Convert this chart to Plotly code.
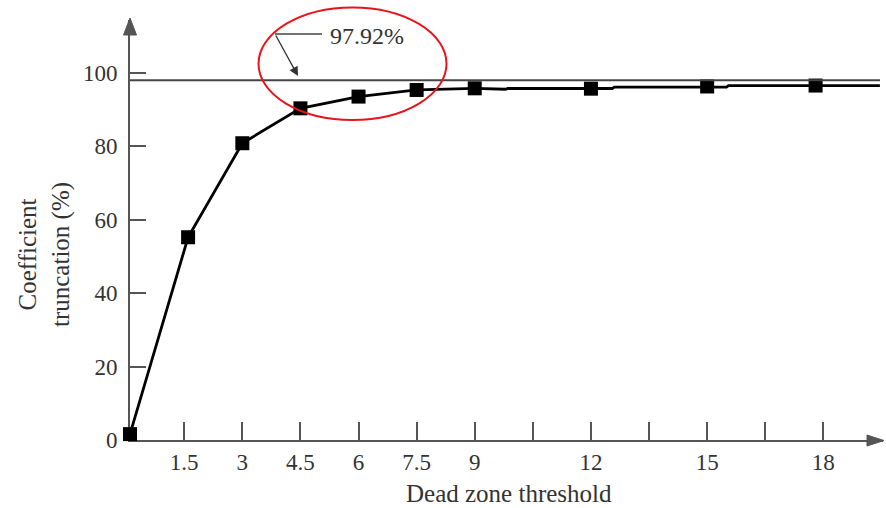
import plotly.graph_objects as go

# ---- data ----
thresholds = [0.1, 1.6, 3.0, 4.5, 6.0, 7.5, 9.0, 12.0, 15.0, 17.8]
truncation = [1.6, 55.2, 80.8, 90.3, 93.5, 95.3, 95.75, 95.65, 96.25, 96.5]

# polyline as drawn (with the small steps of the original curve)
curve_x = [0.1, 1.6, 3.0, 4.5, 6.0, 7.5, 9.0, 9.8, 9.85, 12.55, 12.6, 15.5, 15.55, 19.46]
curve_y = [1.6, 55.2, 80.8, 90.3, 93.5, 95.3, 95.75, 95.5, 95.7, 95.7, 96.1, 96.1, 96.5, 96.5]

reference_value = 97.92
reference_label = "97.92%"

x_tickvals = [1.5, 3, 4.5, 6, 7.5, 9, 10.5, 12, 13.5, 15, 16.5, 18]
x_ticktext = ["1.5", "3", "4.5", "6", "7.5", "9", "", "12", "", "15", "", "18"]
y_tickvals = [0, 20, 40, 60, 80, 100]

x_title = "Dead zone threshold"
y_title = "Coefficient<br>truncation (%)"

# ---- layout geometry (pixels) ----
W, H = 886, 508
L, R, T, B = 130, 883, 20, 440
X_RANGE = [0.1, 19.54]
Y_RANGE = [0, 114.35]

def px(x):
    return (x - L) / (R - L)

def py(y):
    return (B - y) / (B - T)

FONT = "Liberation Serif, Times New Roman, serif"
TXT = "#333333"
AX = "#555555"

fig = go.Figure()

fig.add_trace(go.Scatter(
    x=curve_x, y=curve_y, mode="lines",
    line=dict(color="black", width=2.8),
    hoverinfo="skip", showlegend=False, cliponaxis=False))

fig.add_trace(go.Scatter(
    x=thresholds, y=truncation, mode="markers",
    marker=dict(symbol="square", size=14, color="black", line=dict(width=0)),
    showlegend=False, cliponaxis=False))

shapes = []
# reference line at 97.92 %
shapes.append(dict(type="line", xref="paper", yref="y",
                   x0=0, x1=px(880), y0=reference_value, y1=reference_value,
                   line=dict(color="#444444", width=2)))
# axis arrowheads
shapes.append(dict(type="path", xref="paper", yref="paper",
                   path=f"M {px(130)} {py(18)} L {px(123.5)} {py(35)} L {px(136.5)} {py(35)} Z",
                   fillcolor=AX, line=dict(color=AX, width=1)))
shapes.append(dict(type="path", xref="paper", yref="paper",
                   path=f"M {px(884)} {py(440.5)} L {px(867)} {py(435)} L {px(867)} {py(446)} Z",
                   fillcolor=AX, line=dict(color=AX, width=1)))
# leader line of the label
shapes.append(dict(type="line", xref="paper", yref="paper",
                   x0=px(275), x1=px(322), y0=py(34), y1=py(34),
                   line=dict(color="#444444", width=1.5)))
# red ellipse
shapes.append(dict(type="circle", xref="paper", yref="paper",
                   x0=px(258.5), x1=px(446.5), y0=py(120), y1=py(7.5),
                   line=dict(color="#e8141c", width=2)))

annotations = [
    dict(xref="paper", yref="paper", x=px(298), y=py(76), ax=275 - 298, ay=34 - 76,
         axref="pixel", ayref="pixel", text="", showarrow=True,
         arrowhead=2, arrowsize=1.4, arrowwidth=1.3, arrowcolor="#333333", standoff=0),
    dict(xref="paper", yref="paper", x=px(367), y=py(36), text=reference_label,
         showarrow=False, xanchor="center", yanchor="middle",
         font=dict(family=FONT, size=24, color=TXT)),
    dict(xref="paper", yref="paper", x=px(509), y=py(493), text=x_title,
         showarrow=False, xanchor="center", yanchor="middle",
         font=dict(family=FONT, size=25, color=TXT)),
    dict(xref="paper", yref="paper", x=px(44), y=py(255), text=y_title,
         showarrow=False, xanchor="center", yanchor="middle", textangle=-90,
         font=dict(family=FONT, size=25, color=TXT)),
]

fig.update_layout(
    width=W, height=H,
    margin=dict(l=L, r=W - R, t=T, b=H - B, pad=0),
    paper_bgcolor="white", plot_bgcolor="white",
    shapes=shapes, annotations=annotations,
    xaxis=dict(range=X_RANGE, showgrid=False, zeroline=False,
               showline=True, linecolor=AX, linewidth=2,
               ticks="inside", ticklen=18, tickwidth=2, tickcolor=AX,
               tickvals=x_tickvals, ticktext=x_ticktext,
               tickfont=dict(family=FONT, size=23, color=TXT),
               ticklabelstandoff=0, layer="below traces"),
    yaxis=dict(range=Y_RANGE, showgrid=False, zeroline=False,
               showline=True, linecolor=AX, linewidth=2,
               ticks="inside", ticklen=16, tickwidth=2, tickcolor=AX,
               tickvals=y_tickvals,
               tickfont=dict(family=FONT, size=23, color=TXT),
               ticklabelstandoff=6, layer="below traces"),
)

fig.write_html("out.html")
